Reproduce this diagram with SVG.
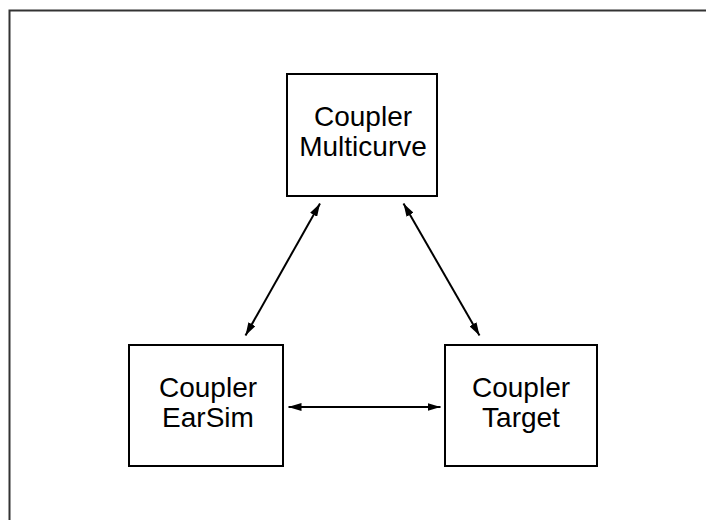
<svg xmlns="http://www.w3.org/2000/svg" width="707" height="520" viewBox="0 0 707 520">
<defs>
<style>
.box{fill:#fff;stroke:#000;stroke-width:2}
.lbl{font-family:"Liberation Sans",Arial,Helvetica,sans-serif;font-size:28px;fill:#000;text-anchor:middle}
.con{stroke:#000;stroke-width:2;fill:none;marker-start:url(#ah);marker-end:url(#ah)}
</style>
<marker id="ah" viewBox="0 0 13 8" refX="13" refY="4" markerWidth="13" markerHeight="8" markerUnits="userSpaceOnUse" orient="auto-start-reverse">
<path d="M0,0 L13,4 L0,8 Z" fill="#000"/>
</marker>
</defs>
<rect width="707" height="520" fill="#fff"/>
<path d="M9.5,520 V10.5 H706" fill="none" stroke="#333" stroke-width="2"/>
<g id="multicurve">
<rect class="box" x="287" y="74" width="150" height="122"/>
<text class="lbl" x="363" y="126">Coupler</text>
<text class="lbl" x="363" y="156">Multicurve</text>
</g>
<g id="earsim">
<rect class="box" x="129" y="345" width="154" height="121"/>
<text class="lbl" x="208" y="397">Coupler</text>
<text class="lbl" x="208" y="427">EarSim</text>
</g>
<g id="target">
<rect class="box" x="445" y="345" width="152" height="121"/>
<text class="lbl" x="521" y="397">Coupler</text>
<text class="lbl" x="521" y="427">Target</text>
</g>
<g id="connectors">
<line class="con" x1="320" y1="203.5" x2="245.5" y2="335.5"/>
<line class="con" x1="403.5" y1="203.5" x2="479.5" y2="335.5"/>
<line class="con" x1="288.5" y1="407" x2="440.5" y2="407"/>
</g>
</svg>
